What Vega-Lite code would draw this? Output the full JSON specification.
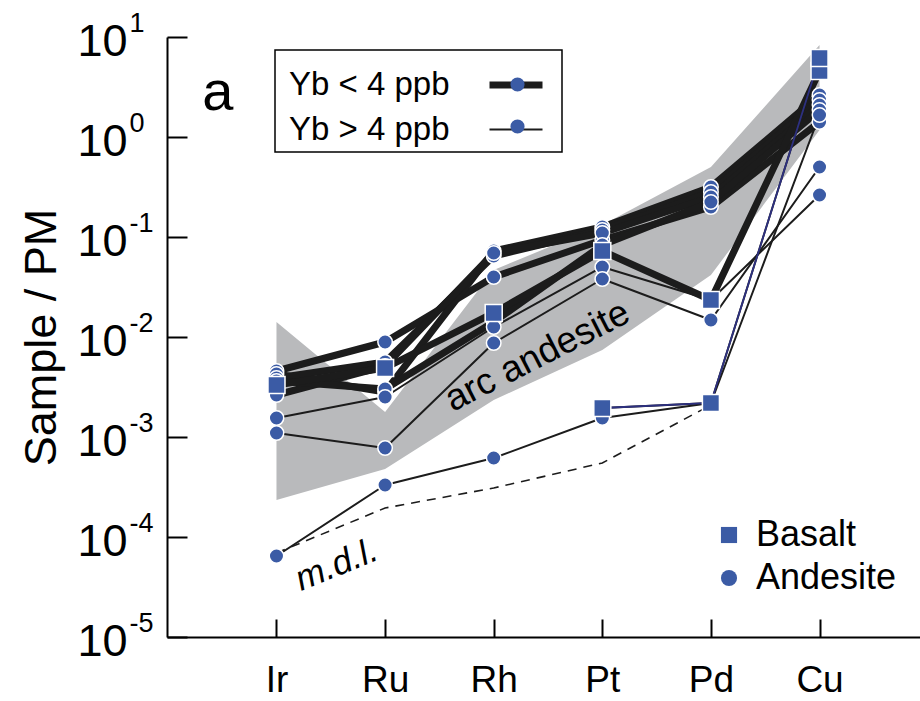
{
  "$schema": "https://vega.github.io/schema/vega-lite/v6.json",
  "width": 753,
  "height": 600,
  "autosize": {"type": "none"},
  "padding": {"left": 167, "top": 37, "right": 0, "bottom": 64},
  "config": {
    "view": {"stroke": null},
    "font": "Liberation Sans",
    "axis": {"labelFont": "Liberation Sans", "titleFont": "Liberation Sans", "labelColor": "black", "titleColor": "black", "grid": false},
    "legend": {"labelFont": "Liberation Sans", "labelColor": "black"}
  },
  "datasets": {
    "samples": [
      {"sample": "A1", "rock": "Andesite", "yb": "Yb < 4 ppb", "element": "Ir", "idx": 0, "value": 0.004571},
      {"sample": "A1", "rock": "Andesite", "yb": "Yb < 4 ppb", "element": "Ru", "idx": 1, "value": 0.008913},
      {"sample": "A1", "rock": "Andesite", "yb": "Yb < 4 ppb", "element": "Rh", "idx": 2, "value": 0.03981},
      {"sample": "A1", "rock": "Andesite", "yb": "Yb < 4 ppb", "element": "Pt", "idx": 3, "value": 0.09333},
      {"sample": "A1", "rock": "Andesite", "yb": "Yb < 4 ppb", "element": "Pd", "idx": 4, "value": 0.1995},
      {"sample": "A1", "rock": "Andesite", "yb": "Yb < 4 ppb", "element": "Cu", "idx": 5, "value": 1.413},
      {"sample": "A2", "rock": "Andesite", "yb": "Yb < 4 ppb", "element": "Ir", "idx": 0, "value": 0.004266},
      {"sample": "A2", "rock": "Andesite", "yb": "Yb < 4 ppb", "element": "Ru", "idx": 1, "value": 0.002818},
      {"sample": "A2", "rock": "Andesite", "yb": "Yb < 4 ppb", "element": "Rh", "idx": 2, "value": 0.07244},
      {"sample": "A2", "rock": "Andesite", "yb": "Yb < 4 ppb", "element": "Pt", "idx": 3, "value": 0.1259},
      {"sample": "A2", "rock": "Andesite", "yb": "Yb < 4 ppb", "element": "Pd", "idx": 4, "value": 0.3162},
      {"sample": "A2", "rock": "Andesite", "yb": "Yb < 4 ppb", "element": "Cu", "idx": 5, "value": 2.63},
      {"sample": "A3", "rock": "Andesite", "yb": "Yb < 4 ppb", "element": "Ir", "idx": 0, "value": 0.00389},
      {"sample": "A3", "rock": "Andesite", "yb": "Yb < 4 ppb", "element": "Ru", "idx": 1, "value": 0.005623},
      {"sample": "A3", "rock": "Andesite", "yb": "Yb < 4 ppb", "element": "Rh", "idx": 2, "value": 0.06457},
      {"sample": "A3", "rock": "Andesite", "yb": "Yb < 4 ppb", "element": "Pt", "idx": 3, "value": 0.1175},
      {"sample": "A3", "rock": "Andesite", "yb": "Yb < 4 ppb", "element": "Pd", "idx": 4, "value": 0.2818},
      {"sample": "A3", "rock": "Andesite", "yb": "Yb < 4 ppb", "element": "Cu", "idx": 5, "value": 2.344},
      {"sample": "A4", "rock": "Andesite", "yb": "Yb < 4 ppb", "element": "Ir", "idx": 0, "value": 0.00263},
      {"sample": "A4", "rock": "Andesite", "yb": "Yb < 4 ppb", "element": "Ru", "idx": 1, "value": 0.005129},
      {"sample": "A4", "rock": "Andesite", "yb": "Yb < 4 ppb", "element": "Rh", "idx": 2, "value": 0.06918},
      {"sample": "A4", "rock": "Andesite", "yb": "Yb < 4 ppb", "element": "Pt", "idx": 3, "value": 0.1096},
      {"sample": "A4", "rock": "Andesite", "yb": "Yb < 4 ppb", "element": "Pd", "idx": 4, "value": 0.2512},
      {"sample": "A4", "rock": "Andesite", "yb": "Yb < 4 ppb", "element": "Cu", "idx": 5, "value": 2.089},
      {"sample": "A5", "rock": "Andesite", "yb": "Yb < 4 ppb", "element": "Ir", "idx": 0, "value": 0.003631},
      {"sample": "A5", "rock": "Andesite", "yb": "Yb < 4 ppb", "element": "Ru", "idx": 1, "value": 0.00302},
      {"sample": "A5", "rock": "Andesite", "yb": "Yb < 4 ppb", "element": "Rh", "idx": 2, "value": 0.01413},
      {"sample": "A5", "rock": "Andesite", "yb": "Yb < 4 ppb", "element": "Pt", "idx": 3, "value": 0.08318},
      {"sample": "A5", "rock": "Andesite", "yb": "Yb < 4 ppb", "element": "Pd", "idx": 4, "value": 0.2239},
      {"sample": "A5", "rock": "Andesite", "yb": "Yb < 4 ppb", "element": "Cu", "idx": 5, "value": 1.862},
      {"sample": "A6", "rock": "Andesite", "yb": "Yb > 4 ppb", "element": "Ir", "idx": 0, "value": 0.001549},
      {"sample": "A6", "rock": "Andesite", "yb": "Yb > 4 ppb", "element": "Ru", "idx": 1, "value": 0.002512},
      {"sample": "A6", "rock": "Andesite", "yb": "Yb > 4 ppb", "element": "Rh", "idx": 2, "value": 0.01259},
      {"sample": "A6", "rock": "Andesite", "yb": "Yb > 4 ppb", "element": "Pt", "idx": 3, "value": 0.05012},
      {"sample": "A6", "rock": "Andesite", "yb": "Yb > 4 ppb", "element": "Pd", "idx": 4, "value": 0.02344},
      {"sample": "A6", "rock": "Andesite", "yb": "Yb > 4 ppb", "element": "Cu", "idx": 5, "value": 0.263},
      {"sample": "A7", "rock": "Andesite", "yb": "Yb > 4 ppb", "element": "Ir", "idx": 0, "value": 0.001096},
      {"sample": "A7", "rock": "Andesite", "yb": "Yb > 4 ppb", "element": "Ru", "idx": 1, "value": 0.0007762},
      {"sample": "A7", "rock": "Andesite", "yb": "Yb > 4 ppb", "element": "Rh", "idx": 2, "value": 0.00871},
      {"sample": "A7", "rock": "Andesite", "yb": "Yb > 4 ppb", "element": "Pt", "idx": 3, "value": 0.03802},
      {"sample": "A7", "rock": "Andesite", "yb": "Yb > 4 ppb", "element": "Pd", "idx": 4, "value": 0.01479},
      {"sample": "A7", "rock": "Andesite", "yb": "Yb > 4 ppb", "element": "Cu", "idx": 5, "value": 0.5012},
      {"sample": "A8", "rock": "Andesite", "yb": "Yb > 4 ppb", "element": "Ir", "idx": 0, "value": 0.00006457},
      {"sample": "A8", "rock": "Andesite", "yb": "Yb > 4 ppb", "element": "Ru", "idx": 1, "value": 0.0003311},
      {"sample": "A8", "rock": "Andesite", "yb": "Yb > 4 ppb", "element": "Rh", "idx": 2, "value": 0.0006166},
      {"sample": "A8", "rock": "Andesite", "yb": "Yb > 4 ppb", "element": "Pt", "idx": 3, "value": 0.001549},
      {"sample": "A8", "rock": "Andesite", "yb": "Yb > 4 ppb", "element": "Pd", "idx": 4, "value": 0.002188},
      {"sample": "A8", "rock": "Andesite", "yb": "Yb > 4 ppb", "element": "Cu", "idx": 5, "value": 1.66},
      {"sample": "B1", "rock": "Basalt", "yb": "Yb < 4 ppb", "element": "Ir", "idx": 0, "value": 0.003311},
      {"sample": "B1", "rock": "Basalt", "yb": "Yb < 4 ppb", "element": "Ru", "idx": 1, "value": 0.004898},
      {"sample": "B1", "rock": "Basalt", "yb": "Yb < 4 ppb", "element": "Rh", "idx": 2, "value": 0.01738},
      {"sample": "B1", "rock": "Basalt", "yb": "Yb < 4 ppb", "element": "Pt", "idx": 3, "value": 0.07244},
      {"sample": "B1", "rock": "Basalt", "yb": "Yb < 4 ppb", "element": "Pd", "idx": 4, "value": 0.02344},
      {"sample": "B1", "rock": "Basalt", "yb": "Yb < 4 ppb", "element": "Cu", "idx": 5, "value": 4.571},
      {"sample": "B2", "rock": "Basalt", "yb": "Yb > 4 ppb", "element": "Pt", "idx": 3, "value": 0.00195},
      {"sample": "B2", "rock": "Basalt", "yb": "Yb > 4 ppb", "element": "Pd", "idx": 4, "value": 0.002188},
      {"sample": "B2", "rock": "Basalt", "yb": "Yb > 4 ppb", "element": "Cu", "idx": 5, "value": 6.166}
    ],
    "band": [
      {"element": "Ir", "idx": 0, "lo": 0.0002344, "hi": 0.01413},
      {"element": "Ru", "idx": 1, "lo": 0.0004786, "hi": 0.001778},
      {"element": "Rh", "idx": 2, "lo": 0.002344, "hi": 0.04677},
      {"element": "Pt", "idx": 3, "lo": 0.007413, "hi": 0.1318},
      {"element": "Pd", "idx": 4, "lo": 0.04169, "hi": 0.5012},
      {"element": "Cu", "idx": 5, "lo": 1.175, "hi": 8.318}
    ],
    "mdl": [
      {"element": "Ir", "idx": 0, "value": 0.00006918},
      {"element": "Ru", "idx": 1, "value": 0.000195},
      {"element": "Rh", "idx": 2, "value": 0.000309},
      {"element": "Pt", "idx": 3, "value": 0.00055},
      {"element": "Pd", "idx": 4, "value": 0.00209}
    ]
  },
  "resolve": {"axis": {"x": "independent", "y": "independent"}},
  "layer": [
    {
      "data": {"name": "band"},
      "mark": {"type": "area", "color": "#b9babc", "opacity": 1},
      "encoding": {
        "x": {"field": "idx", "type": "quantitative",
          "scale": {"domain": [-1.008, 5.925], "nice": false, "zero": false},
          "axis": {"orient": "bottom", "values": [0, 1, 2, 3, 4, 5], "labelExpr": "['Ir','Ru','Rh','Pt','Pd','Cu'][datum.value]",
            "domain": true, "domainColor": "black", "domainWidth": 2, "ticks": false,
            "labelPadding": 54, "labelFontSize": 37, "labelBaseline": "alphabetic", "labelFlush": false, "labelOverlap": false, "labelBound": false, "title": null}},
        "y": {"field": "lo", "type": "quantitative",
          "scale": {"type": "log", "domain": [0.00001, 10], "nice": false},
          "axis": {"orient": "left", "values": [0.00001, 0.0001, 0.001, 0.01, 0.1, 1, 10], "labelExpr": "'10'",
            "domain": true, "domainColor": "black", "domainWidth": 2, "ticks": false,
            "labelPadding": 40, "labelFontSize": 45, "labelAlign": "right", "labelBaseline": "middle", "labelOffset": 4,
            "labelOverlap": false, "labelFlush": false, "labelBound": false,
            "title": "Sample / PM", "titleFontSize": 45, "titleFontWeight": "normal", "titleAngle": -90,
            "titleX": -112, "titleY": 300, "titleAlign": "center", "titleBaseline": "alphabetic"}},
        "y2": {"field": "hi"}
      }
    },
    {
      "data": {"name": "mdl"},
      "mark": {"type": "line", "color": "#1c1c1c", "strokeWidth": 1.6, "strokeDash": [9, 7]},
      "encoding": {
        "x": {"field": "idx", "type": "quantitative", "axis": null},
        "y": {"field": "value", "type": "quantitative",
          "axis": {"orient": "left", "values": [0.00001, 0.0001, 0.001, 0.01, 0.1, 1, 10],
            "labelExpr": "'' + round(log(datum.value) / LN10)",
            "domain": false, "ticks": false, "labelPadding": 38, "labelAlign": "left", "labelBaseline": "middle",
            "labelOffset": -14, "labelFontSize": 27, "labelOverlap": false, "labelFlush": false, "labelBound": false, "title": null}}
      }
    },
    {
      "data": {"values": [{}]},
      "mark": {"type": "text", "text": "arc andesite", "fontSize": 37, "font": "Liberation Sans", "angle": -27, "align": "center", "baseline": "alphabetic", "color": "black"},
      "encoding": {"x": {"datum": 2.45, "type": "quantitative", "axis": null}, "y": {"datum": 0.0051, "type": "quantitative", "axis": null}}
    },
    {
      "data": {"values": [{}]},
      "mark": {"type": "text", "text": "m.d.l.", "fontSize": 35, "font": "Liberation Sans", "fontStyle": "italic", "angle": -22, "align": "center", "baseline": "alphabetic", "color": "black"},
      "encoding": {"x": {"datum": 0.59, "type": "quantitative", "axis": null}, "y": {"datum": 0.0000417, "type": "quantitative", "axis": null}}
    },
    {
      "data": {"values": [{}]},
      "mark": {"type": "text", "text": "a", "fontSize": 56, "font": "Liberation Sans", "align": "center", "baseline": "alphabetic", "color": "black"},
      "encoding": {"x": {"datum": -0.539, "type": "quantitative", "axis": null}, "y": {"datum": 1.862, "type": "quantitative", "axis": null}}
    },
    {
      "data": {"name": "samples"},
      "mark": {"type": "line", "color": "#1c1c1c", "strokeJoin": "round"},
      "encoding": {
        "x": {"field": "idx", "type": "quantitative",
          "axis": {"orient": "bottom", "values": [0, 1, 2, 3, 4, 5], "domain": false, "labels": false, "ticks": true,
            "tickSize": 18, "tickWidth": 2, "tickColor": "black", "offset": -18, "title": null, "grid": false}},
        "y": {"field": "value", "type": "quantitative",
          "axis": {"orient": "left", "values": [0.00001, 0.0001, 0.001, 0.01, 0.1, 1, 10], "domain": false, "labels": false,
            "ticks": true, "tickSize": 20, "tickWidth": 2, "tickColor": "black", "offset": -20, "title": null, "grid": false}},
        "detail": {"field": "sample", "type": "nominal"},
        "strokeWidth": {"field": "yb", "type": "ordinal",
          "scale": {"domain": ["Yb < 4 ppb", "Yb > 4 ppb"], "range": [7, 2]},
          "legend": {"title": null, "orient": "none", "legendX": 108, "legendY": 13, "padding": 5,
            "strokeColor": "black", "symbolType": "stroke", "symbolSize": 2809, "symbolStrokeColor": "#1c1c1c",
            "symbolOffset": 206, "labelOffset": -257, "labelFontSize": 33, "labelLimit": 300,
            "rowPadding": -6, "zindex": 1,
            "encode": {"legend": {"update": {"strokeWidth": {"value": 1.5}}}}}}
      }
    },
    {
      "data": {"name": "samples"},
      "transform": [{"filter": "datum.sample === 'B2'"}],
      "mark": {"type": "line", "color": "#2d3080", "strokeWidth": 1.8},
      "encoding": {
        "x": {"field": "idx", "type": "quantitative", "axis": null},
        "y": {"field": "value", "type": "quantitative", "axis": null}
      }
    },
    {
      "data": {"name": "samples"},
      "transform": [{"filter": "datum.rock === 'Andesite'"}],
      "mark": {"type": "point", "filled": true, "fill": "#3b5ba5", "stroke": "white", "strokeWidth": 1.5, "size": 210},
      "encoding": {
        "x": {"field": "idx", "type": "quantitative", "axis": null},
        "y": {"field": "value", "type": "quantitative", "axis": null},
        "shape": {"field": "rock", "type": "nominal",
          "scale": {"domain": ["Basalt", "Andesite"], "range": ["square", "circle"]},
          "legend": {"title": null, "orient": "none", "legendX": 544, "legendY": 480, "padding": 0,
            "symbolSize": 260, "symbolFillColor": "#3b5ba5", "symbolStrokeColor": "white", "symbolStrokeWidth": 1, "symbolOpacity": 1,
            "labelOffset": 9, "labelFontSize": 36, "labelLimit": 300, "rowPadding": 7, "zindex": 1}},
        "opacity": {"field": "yb", "type": "ordinal", "scale": {"range": [1, 1]},
          "legend": {"title": null, "orient": "none", "legendX": 108, "legendY": 19, "padding": 12,
            "symbolType": "circle", "symbolSize": 200, "symbolFillColor": "#3b5ba5", "symbolStrokeColor": "white",
            "symbolStrokeWidth": 1.5, "symbolOpacity": 1, "symbolOffset": 214, "labelOffset": -250, "labelFontSize": 33, "labelOpacity": 0,
            "labelExpr": "' '", "labelLimit": 300, "rowPadding": 8, "zindex": 2}}
      }
    },
    {
      "data": {"name": "samples"},
      "transform": [{"filter": "datum.rock === 'Basalt'"}],
      "mark": {"type": "point", "filled": true, "fill": "#3b5ba5", "stroke": "white", "strokeWidth": 1.5, "size": 290, "opacity": 1},
      "encoding": {
        "x": {"field": "idx", "type": "quantitative", "axis": null},
        "y": {"field": "value", "type": "quantitative", "axis": null},
        "shape": {"field": "rock", "type": "nominal",
          "scale": {"domain": ["Basalt", "Andesite"], "range": ["square", "circle"]}}
      }
    }
  ]
}
